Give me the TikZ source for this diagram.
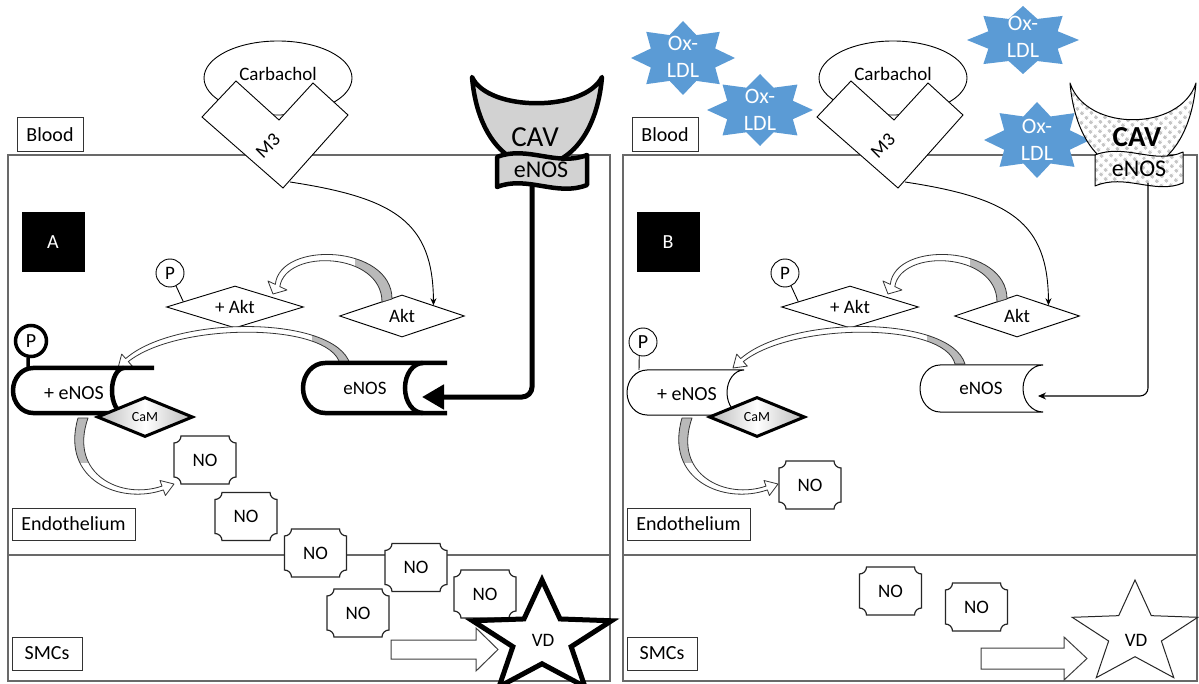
\documentclass[tikz,border=0pt]{standalone}
\usepackage{fontspec}
\setmainfont{Carlito}
\usetikzlibrary{arrows.meta,patterns.meta,calc,shapes.geometric}
\definecolor{oxblue}{RGB}{91,155,213}
\definecolor{framegray}{RGB}{105,105,105}
\newcommand{\fs}[1]{\fontsize{#1}{#1}\selectfont}
\tikzset{
  frame/.style={draw=framegray,line width=1.4},
  lbox/.style={draw=black!80,line width=1,fill=white,font=\fs{20},inner sep=0,minimum height=34},
  tx/.style={font=\fs{19},inner sep=0},
  thinstroke/.style={draw=black,line width=0.9},
  diam/.style={diamond,aspect=3,draw=black,line width=0.9,fill=white,inner sep=0,font=\fs{19}},
  pcirc/.style={circle,draw=black,line width=0.9,fill=white,inner sep=0,minimum size=28,font=\fs{19}},
  noshape/.style={draw=black!85,line width=1.2,fill=white},
  camstyle/.style={diamond,aspect=2.4,draw=black,line width=3,left color=gray!55,right color=gray!55,middle color=white,inner sep=0,minimum width=96,minimum height=40,font=\fs{14}},
  oxtext/.style={text=white,font=\fontsize{22}{27}\selectfont,align=center,inner sep=0},
  bandline/.style={draw=black!80,line width=0.8,line join=round},
  blockarrow/.style={draw=black!75,line width=1,fill=white},
  checker/.style={line width=1,preaction={fill=white},pattern={Dots[radius=2pt,distance=6.5pt,angle=45]},pattern color=gray!45,line join=round},
}
\newcommand{\noplaque}[3]{%
  \draw[noshape] (#2-24,#3-24) -- (#2+24,#3-24) arc[start angle=180,end angle=90,radius=7]
    -- (#2+31,#3+17) arc[start angle=270,end angle=180,radius=7]
    -- (#2-24,#3+24) arc[start angle=0,end angle=-90,radius=7]
    -- (#2-31,#3-17) arc[start angle=90,end angle=0,radius=7] -- cycle;
  \node[tx] (#1) at (#2,#3) {NO};}
\newcommand{\fivestar}[5]{%
  \path[#1] (#2,#3-#5) \foreach \k in {1,...,9}{ -- ({#2+(1-0.58*mod(\k,2))*#4*cos(90+36*\k)},{#3-(1-0.58*mod(\k,2))*#5*sin(90+36*\k)}) } -- cycle;}
\newcommand{\eightstar}[4]{%
  \fill[oxblue] (#1,#2-#4) \foreach \k in {1,...,15}{ -- ({#1+(1-0.33*mod(\k,2))*#3*cos(90+22.5*\k)},{#2-(1-0.33*mod(\k,2))*#4*sin(90+22.5*\k)}) } -- cycle;}
\newcommand{\arrowone}[1]{\path[#1] (392,299) .. controls (392,245) and (280,240) .. (275.3,284.4) -- (268,281) -- (273,294) -- (287,290) -- (279.8,286.6) .. controls (286,248) and (382,252) .. (382,302) -- cycle;}
\newcommand{\arrowtwo}[1]{\path[#1] (350,364) .. controls (335,315) and (175,315) .. (125.7,358.6) -- (121.7,354.1) -- (118,368) -- (132.3,366.1) -- (128.3,361.6) .. controls (178,322) and (330,322) .. (340,364) -- cycle;}
\newcommand{\arrowthree}[1]{\path[#1] (78,418) .. controls (60,480) and (120,505) .. (163.4,489.9) -- (165.4,495.5) -- (174,484) -- (160,480.5) -- (162,486.1) .. controls (122,500) and (68,475) .. (88,418) -- cycle;}
\newcommand{\commonpart}[2]{%
  \draw[thinstroke,fill=white] (278,78) ellipse[x radius=74,y radius=37];
  \node[tx] (carb#1) at (278,74) {Carbachol};
  \draw[thinstroke,fill=white] (202,117) -- (236,81) -- (279,120) -- (313,83) -- (348,115) -- (283,188) -- cycle;
  \node[tx,rotate=45] (mthree#1) at (268,146) {M3};
  \node[lbox,minimum width=66] (blood#1) at (50,135) {Blood};
  \node[lbox,minimum width=123,minimum height=32] (endo#1) at (73.5,524) {Endothelium};
  \node[lbox,minimum width=70,minimum height=33] (smc#1) at (47,653.5) {SMCs};
  \node[fill=black,text=white,minimum width=63,minimum height=60,inner sep=0,font=\fs{20}] (box#1) at (53,242) {#2};
  \node[diam,minimum width=137,minimum height=42] (pakt#1) at (235,307) {+ Akt};
  \node[diam,minimum width=125,minimum height=42] (akt#1) at (402,316) {Akt};
  \node[pcirc] (pa#1) at (170,273) {P};
  \draw[thinstroke] (pa#1.-65) -- ($(pakt#1.west)!0.25!(pakt#1.north)$);
  \coordinate (mout#1) at (290,182);
  \draw[thinstroke,-{Stealth[length=7pt,width=6pt]}] (mout#1) .. controls (395,198) and (433,222) .. (akt#1.north east);
  \arrowone{fill=white}
  \begin{scope}\clip (355,230) rectangle (400,305); \arrowone{fill=gray!55}\end{scope}
  \arrowone{bandline}
  \arrowtwo{fill=white}
  \begin{scope}\clip (312,320) rectangle (360,370); \arrowtwo{fill=gray!55}\end{scope}
  \arrowtwo{bandline}
}
\begin{document}
\begin{tikzpicture}[x=1pt,y=-1pt]
\useasboundingbox (0,0) rectangle (1199,684);
\fill[white] (0,0) rectangle (1199,684);
% ================= Panel A =================
\draw[frame] (8,155) rectangle (610,681);
\draw[frame] (8,555) -- (610,555);
\commonpart{A}{A}
% eNOS (thick)
\fill[white] (325,363) -- (423,363) arc[start angle=270,end angle=90,x radius=18,y radius=25] -- (325,413) arc[start angle=90,end angle=270,x radius=22,y radius=25] -- cycle;
\draw[line width=4.5,line join=round] (447,363) -- (325,363) arc[start angle=270,end angle=90,x radius=22,y radius=25] -- (447,413);
\draw[line width=4.5] (423,363) arc[start angle=270,end angle=90,x radius=18,y radius=25];
\node[tx] (enosA) at (365,388) {eNOS};
% +eNOS (thick)
\fill[white] (33,368) -- (124,368) arc[start angle=270,end angle=90,x radius=12,y radius=22.5] -- (33,413) arc[start angle=90,end angle=270,x radius=20,y radius=22.5] -- cycle;
\draw[line width=4.5,line join=round] (154,368) -- (33,368) arc[start angle=270,end angle=90,x radius=20,y radius=22.5] -- (124,413);
\draw[line width=4.5] (124,368) arc[start angle=270,end angle=90,x radius=12,y radius=22.5];
\node[font=\fs{20},inner sep=0] (penosA) at (74,393) {+ eNOS};
\node[pcirc,line width=3.5,minimum size=31,font=\fs{20}] (ppA) at (31,341) {P};
\draw[line width=3.5] (ppA.-100) -- (28,368);
\node[camstyle] (camA) at (145,417) {CaM};
% +eNOS -> NO band arrow
\arrowthree{fill=white}
\begin{scope}\clip (50,410) rectangle (100,462); \arrowthree{fill=gray!55}\end{scope}
\arrowthree{bandline}
% CAV / eNOS (A)
\draw[line width=4.5,fill=gray!35,line join=round] (472,77) .. controls (482,195) and (592,195) .. (602,77) .. controls (585,112) and (488,112) .. (472,77) -- cycle;
\draw[line width=4.5,fill=gray!35,line join=round] (497,157) .. controls (527,145) and (557,167) .. (587,155) -- (587,185) .. controls (557,197) and (527,175) .. (497,187) -- cycle;
\node[font=\fs{29},inner sep=0] (cavA) at (535,137) {CAV};
\node[font=\fs{24},inner sep=0] (cavenosA) at (541,170) {eNOS};
\coordinate (cavoutA) at (532,186);
\coordinate (enosinA) at (422,397);
\draw[line width=5,rounded corners=10,-{Triangle[length=22pt,width=24pt]}] (cavoutA) |- (enosinA);
% NO molecules (A)
\noplaque{noAa}{205}{460}
\noplaque{noAb}{246}{516.5}
\noplaque{noAc}{315.5}{553}
\noplaque{noAd}{416}{567.5}
\noplaque{noAe}{485}{594}
\noplaque{noAf}{358}{613}
% block arrow and VD (A)
\draw[blockarrow] (391,640) -- (476,640) -- (476,628) -- (498,649.5) -- (476,671) -- (476,659) -- (391,659) -- cycle;
\fivestar{draw=black,line width=5,fill=white,line join=miter,miter limit=10}{542}{639}{73}{59}
\node[tx] (vdA) at (543,640) {VD};
% ================= Panel B =================
\draw[frame] (623,155) rectangle (1197,681);
\draw[frame] (623,555) -- (1197,555);
\begin{scope}[xshift=615pt]
\commonpart{B}{B}
\end{scope}
% +eNOS (thin)
\draw[line width=1,fill=white] (647,370) -- (744,370) arc[start angle=270,end angle=90,x radius=17,y radius=22.5] -- (647,415) arc[start angle=90,end angle=270,x radius=20,y radius=22.5] -- cycle;
\node[font=\fs{20},inner sep=0] (penosB) at (687,394) {+ eNOS};
\node[pcirc,font=\fs{20}] (ppB) at (643,342) {P};
\draw[thinstroke] (ppB.-105) -- (639,370);
\node[camstyle] (camB) at (757,417) {CaM};
% eNOS (thin)
\draw[line width=1,fill=white] (940,365) -- (1043,365) arc[start angle=270,end angle=90,x radius=20,y radius=23.5] -- (940,412) arc[start angle=90,end angle=270,x radius=20,y radius=23.5] -- cycle;
\node[tx] (enosB) at (981,388) {eNOS};
\begin{scope}[xshift=604pt]
\arrowthree{fill=white}
\begin{scope}\clip (50,410) rectangle (100,462); \arrowthree{fill=gray!55}\end{scope}
\arrowthree{bandline}
\end{scope}
% Ox-LDL
\eightstar{683}{58}{52}{37}
\node[oxtext] (oxa) at (683,57) {Ox-\\LDL};
\eightstar{760}{110}{53}{36}
\node[oxtext] (oxb) at (760,110) {Ox-\\LDL};
\eightstar{1023}{40}{56}{34}
\node[oxtext] (oxc) at (1023,37) {Ox-\\LDL};
\eightstar{1037}{140}{53}{38}
\node[oxtext] (oxd) at (1037,140) {Ox-\\LDL};
% CAV / eNOS (B)
\draw[checker] (1070,83) .. controls (1080,200) and (1186,200) .. (1196,83) .. controls (1180,132) and (1086,132) .. (1070,83) -- cycle;
\draw[checker] (1095,155) .. controls (1125,143) and (1155,165) .. (1183,152) -- (1183,183) .. controls (1155,195) and (1125,173) .. (1095,186) -- cycle;
\node[font=\bfseries\fs{29},inner sep=0] (cavB) at (1137,137) {CAV};
\node[font=\fs{24},inner sep=0] (cavenosB) at (1139,169) {eNOS};
\coordinate (cavoutB) at (1148,183);
\coordinate (enosinB) at (1038,396);
\draw[line width=1.1,rounded corners=8,-{Stealth[length=8pt,width=7pt]}] (cavoutB) |- (enosinB);
% NO (B)
\noplaque{noBa}{810}{485}
\noplaque{noBb}{890.5}{591}
\noplaque{noBc}{976.5}{607}
% block arrow and VD (B)
\draw[blockarrow] (981,648) -- (1064,648) -- (1064,637) -- (1087,658.5) -- (1064,680) -- (1064,669) -- (981,669) -- cycle;
\fivestar{draw=black!85,line width=1,fill=white,line join=miter}{1135}{634}{66}{54}
\node[tx] (vdB) at (1136,640) {VD};
\end{tikzpicture}
\end{document}
